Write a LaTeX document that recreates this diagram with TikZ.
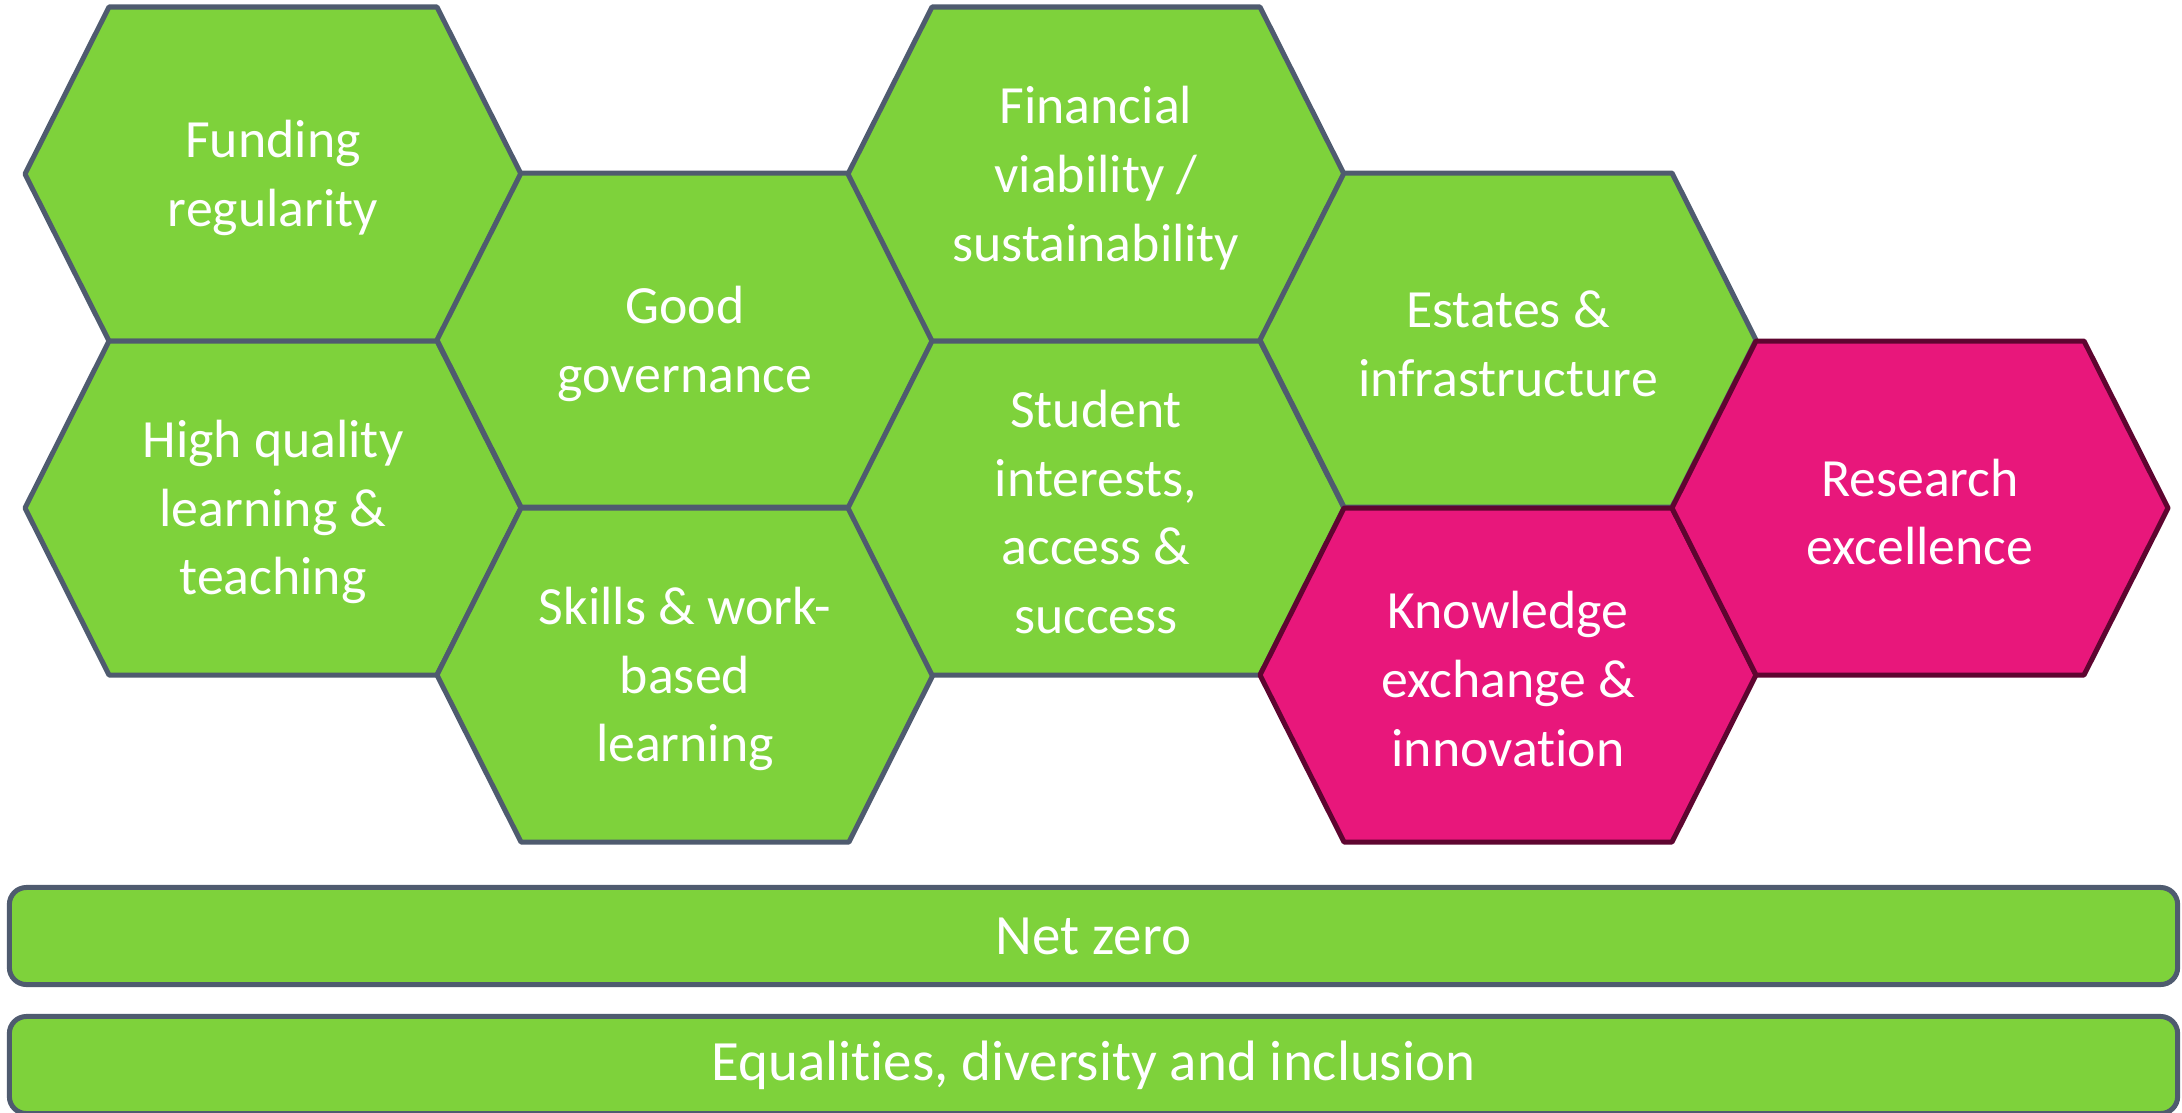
\documentclass[tikz,border=0pt]{standalone}
\usepackage{fontspec}
\setmainfont{Carlito}[Ligatures=CommonOff]
\usepackage{tikz}
\usetikzlibrary{positioning}

\definecolor{hexgreen}{HTML}{7ED23B}
\definecolor{hexedge}{HTML}{4F5B6F}
\definecolor{hexpink}{HTML}{E8177B}
\definecolor{pinkedge}{HTML}{5E0530}

% hexagon cell: name, x, y, style, text
\newcommand{\hexcell}[5]{%
  \draw[#4] ({#2-248},#3) -- ({#2-164},{#3-167}) -- ({#2+164},{#3-167})
    -- ({#2+248},#3) -- ({#2+164},{#3+167}) -- ({#2-164},{#3+167}) -- cycle;
  \node[hexlabel] (#1) at (#2,{#3+4}) {#5};}

\begin{document}
\begin{tikzpicture}[x=0.01cm,y=-0.01cm,align=center]
\tikzstyle{greenhex}=[fill=hexgreen,draw=hexedge,line width=0.05cm,line join=round]
\tikzstyle{pinkhex}=[fill=hexpink,draw=pinkedge,line width=0.05cm,line join=round]
\tikzstyle{hexlabel}=[text=white,font=\fontsize{15.3}{19.6}\selectfont]
\tikzstyle{bar}=[rectangle,rounded corners=0.17cm,fill=hexgreen,draw=hexedge,line width=0.05cm,
  minimum width=21.67cm,minimum height=0.97cm,inner sep=0pt,text=white,font=\fontsize{16.2}{19.6}\selectfont]

\useasboundingbox (0,0) rectangle (2182,1112);

\hexcell{funding}{273}{174}{greenhex}{Funding\\regularity}
\hexcell{quality}{273}{508}{greenhex}{High quality\\learning \&\\teaching}
\hexcell{governance}{685}{340}{greenhex}{Good\\governance}
\hexcell{skills}{685}{675}{greenhex}{Skills \& work-\\based\\learning}
\hexcell{finance}{1096}{174}{greenhex}{Financial\\viability /\\sustainability}
\hexcell{student}{1096}{508}{greenhex}{Student\\interests,\\access \&\\success}
\hexcell{estates}{1508}{340}{greenhex}{Estates \&\\infrastructure}
\hexcell{knowledge}{1508}{675}{pinkhex}{Knowledge\\exchange \&\\innovation}
\hexcell{research}{1920}{508}{pinkhex}{Research\\excellence}

\node[bar] (netzero) at (1093.5,936) {Net zero};
\node[bar] (edi) at (1093.5,1065) {Equalities, diversity and inclusion};
\end{tikzpicture}
\end{document}
